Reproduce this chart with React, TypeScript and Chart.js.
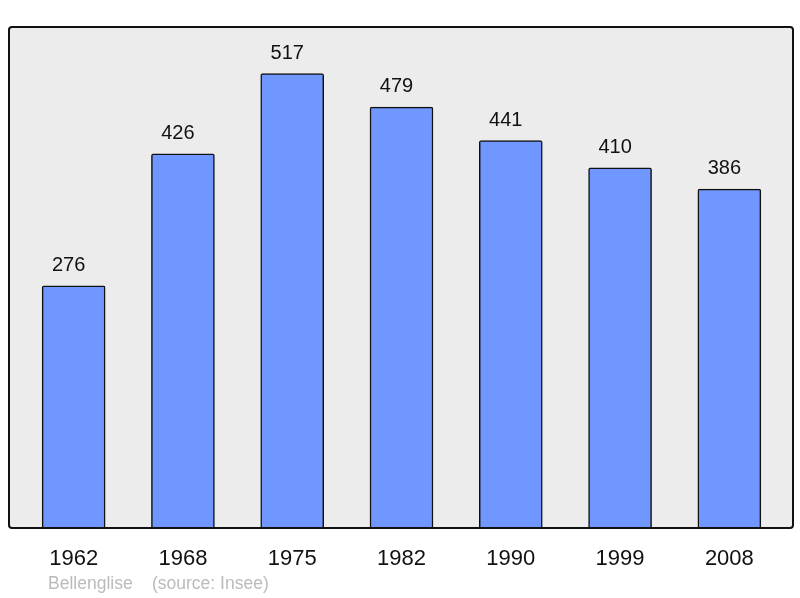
import React, { useEffect, useRef } from "react";
import { Chart, registerables } from "chart.js";

Chart.register(...registerables);

const years = ["1962", "1968", "1975", "1982", "1990", "1999", "2008"];
const population = [276, 426, 517, 479, 441, 410, 386];
const commune = "Bellenglise";
const source = "(source: Insee)";

const FONT = "'Liberation Sans', Arial, sans-serif";

const decorPlugin = {
  id: "decor",
  beforeDraw(chart: any) {
    const { ctx, chartArea } = chart;
    const left = 9, right = 793, top = chartArea.top, bottom = 528;
    ctx.save();
    ctx.beginPath();
    (ctx as any).roundRect(left, top, right - left, bottom - top, 3);
    ctx.fillStyle = "#ececec";
    ctx.fill();
    ctx.restore();
  },
  afterDatasetsDraw(chart: any) {
    const { ctx, chartArea } = chart;
    const left = 9, right = 793, top = chartArea.top, bottom = 528;
    ctx.save();
    ctx.fillStyle = "#ffffff";
    ctx.fillRect(0, bottom, 800, 6);
    ctx.beginPath();
    (ctx as any).roundRect(left, top, right - left, bottom - top, 3);
    ctx.lineWidth = 2;
    ctx.strokeStyle = "#111111";
    ctx.stroke();

    const xScale = chart.scales.x;
    const yScale = chart.scales.y;
    ctx.fillStyle = "#111111";
    ctx.textAlign = "center";
    ctx.textBaseline = "alphabetic";
    ctx.font = `20px ${FONT}`;
    population.forEach((v, i) => {
      const x = xScale.getPixelForValue(i);
      const y = yScale.getPixelForValue(v);
      ctx.fillText(String(v), x - 5, y - 15);
    });
    ctx.font = `22px ${FONT}`;
    years.forEach((yr, i) => {
      const x = xScale.getPixelForValue(i);
      ctx.fillText(yr, x, 565);
    });
    ctx.textAlign = "left";
    ctx.font = `17.5px ${FONT}`;
    ctx.fillStyle = "#bbbbbb";
    ctx.fillText(commune, 48, 589);
    ctx.fillText(source, 152, 589);
    ctx.restore();
  },
};

export default function App() {
  const ref = useRef<HTMLCanvasElement | null>(null);
  useEffect(() => {
    if (!ref.current) return;
    const chart = new Chart(ref.current, {
      type: "bar",
      data: {
        labels: years,
        datasets: [
          {
            data: population,
            backgroundColor: "#7096ff",
            borderColor: "#111111",
            borderWidth: 1.5,
            borderRadius: 2,
            borderSkipped: "bottom",
            barThickness: 63,
          },
        ],
      },
      options: {
        animation: false,
        responsive: false,
        maintainAspectRatio: false,
        layout: { padding: { left: 19, right: 16, top: 27, bottom: 69 } },
        plugins: { legend: { display: false }, tooltip: { enabled: false }, title: { display: false } },
        scales: {
          x: { display: false },
          y: { display: false, min: 0, max: 570 },
        },
      },
      plugins: [decorPlugin],
    });
    return () => chart.destroy();
  }, []);
  return (
    <div style={{ position: "fixed", left: 0, top: 0, width: 800, height: 598, background: "#fff" }}>
      <canvas ref={ref} width={800} height={598} style={{ width: 800, height: 598, display: "block" }} />
    </div>
  );
}
